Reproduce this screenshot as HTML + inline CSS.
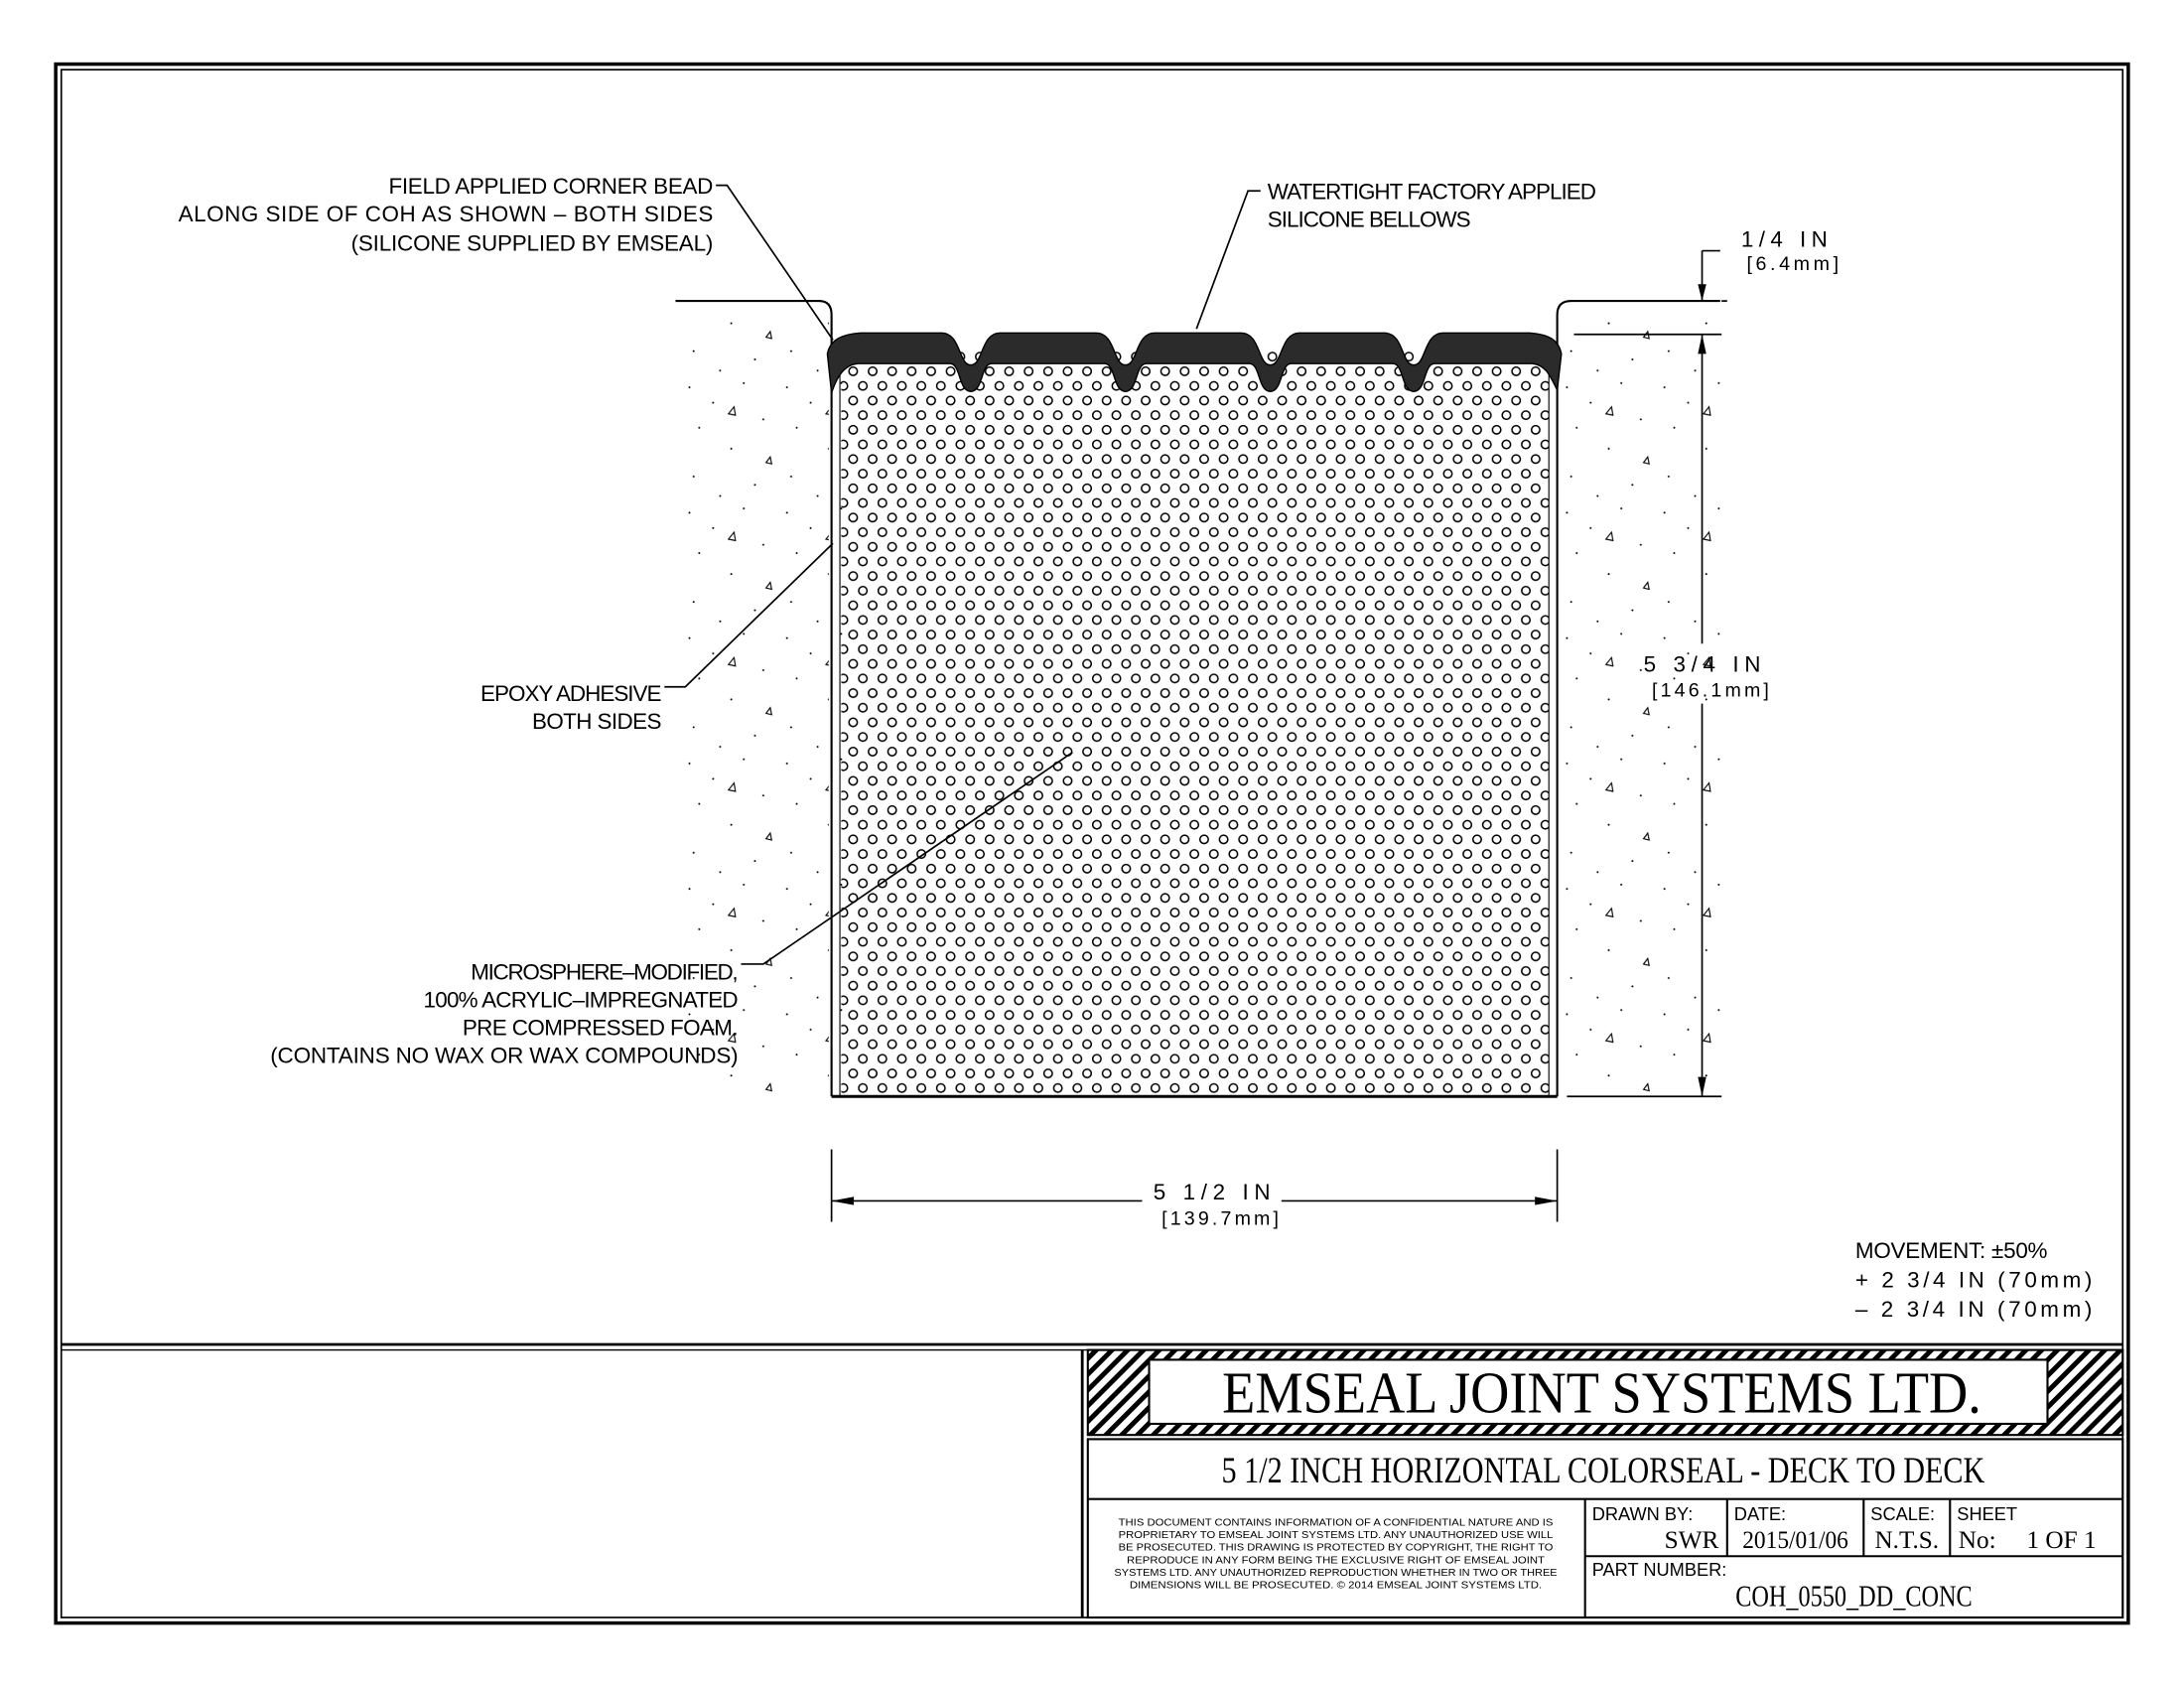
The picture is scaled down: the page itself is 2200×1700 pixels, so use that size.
<!DOCTYPE html>
<html><head><meta charset="utf-8"><style>
html,body{margin:0;padding:0;background:#fff}
svg{display:block}
text{font-family:"Liberation Sans",sans-serif;fill:#000}
.s{font-family:"Liberation Serif",serif}
</style></head><body>
<svg width="2200" height="1700" viewBox="0 0 1568 1211.6" xmlns="http://www.w3.org/2000/svg">
<defs>
<pattern id="foam" width="14" height="21" patternUnits="userSpaceOnUse">
<circle cx="3.5" cy="4" r="3" fill="none" stroke="#000" stroke-width="1.1"/>
<circle cx="10.5" cy="14.5" r="3" fill="none" stroke="#000" stroke-width="1.1"/>
</pattern>
<pattern id="conc" width="70" height="90" patternUnits="userSpaceOnUse">
<circle cx="5" cy="8" r="0.7"/><circle cx="22" cy="19" r="0.7"/><circle cx="44" cy="5" r="0.7"/>
<circle cx="12" cy="37" r="0.7"/><circle cx="58" cy="31" r="0.7"/><circle cx="35" cy="52" r="0.7"/>
<circle cx="8" cy="72" r="0.7"/><circle cx="52" cy="78" r="0.7"/><circle cx="27" cy="86" r="0.7"/>
<path d="M33,27 l4,-5 l1,6 z" fill="none" stroke="#000" stroke-width="0.8"/>
<path d="M60,62 l3,-4 l1,5 z" fill="none" stroke="#000" stroke-width="0.8"/>
</pattern>
<pattern id="hatch" width="8" height="8" patternUnits="userSpaceOnUse" patternTransform="rotate(-45)">
<rect width="8" height="3.5" fill="#000"/>
</pattern>
</defs>

<rect x="40" y="46" width="1488" height="1119" fill="none" stroke="#000" stroke-width="2.5"/>
<rect x="44" y="50" width="1480" height="1111" fill="none" stroke="#000" stroke-width="1.2"/>
<line x1="44" y1="965" x2="1524" y2="965" stroke="#000" stroke-width="2"/>
<line x1="44" y1="969" x2="1524" y2="969" stroke="#000" stroke-width="1"/>
<line x1="777" y1="969" x2="777" y2="1161" stroke="#000" stroke-width="2"/>

<rect x="485" y="218" width="110" height="569" fill="url(#conc)"/>
<rect x="1121" y="218" width="120" height="569" fill="url(#conc)"/>
<rect x="599" y="250" width="7" height="535" fill="url(#conc)"/>
<path d="M485,216 L588,216 Q597,216 597,226 L597,787" fill="none" stroke="#000" stroke-width="1.5"/>
<path d="M1235,216 L1128,216 Q1118,216 1118,226 L1118,787" fill="none" stroke="#000" stroke-width="1.5"/>
<line x1="603" y1="260" x2="603" y2="787" stroke="#000" stroke-width="0.8"/>
<line x1="1112" y1="260" x2="1112" y2="787" stroke="#000" stroke-width="0.8"/>

<rect x="604" y="250" width="508" height="536" fill="url(#foam)"/>
<line x1="597" y1="787" x2="1118" y2="787" stroke="#000" stroke-width="2.2"/>

<path d="M594,254 C596,244 604,240 618,239
L676,239 C690,239 688,262 697,262 C706,262 704,239 718,239
L787,239 C801,239 799,262 808,262 C817,262 815,239 829,239
L891,239 C905,239 903,262 912,262 C921,262 919,239 933,239
L994,239 C1008,239 1006,262 1015,262 C1024,262 1022,239 1036,239
L1098,239 C1112,240 1119,244 1121,254
L1118,280 C1113,270 1110,262 1100,261
L1030,261 C1022,261 1024,281 1015,281 C1006,281 1008,261 1000,261
L927,261 C919,261 921,281 912,281 C903,281 905,261 897,261
L823,261 C815,261 817,281 808,281 C799,281 801,261 793,261
L712,261 C704,261 706,281 697,281 C688,281 690,261 682,261
L616,261 C606,262 601,270 597,282 Z" fill="#2b2b2b" stroke="#000" stroke-width="1"/>

<g stroke="#000" stroke-width="1.2" fill="none">
<line x1="597" y1="825" x2="597" y2="877"/>
<line x1="1118" y1="825" x2="1118" y2="877"/>
<line x1="597" y1="862" x2="820" y2="862"/>
<line x1="920" y1="862" x2="1118" y2="862"/>
<line x1="1130" y1="240" x2="1236" y2="240"/>
<line x1="1125" y1="787" x2="1236" y2="787"/>
<line x1="1222" y1="240" x2="1222" y2="462"/>
<line x1="1222" y1="505" x2="1222" y2="787"/>
<line x1="1222" y1="180" x2="1222" y2="216"/>
<line x1="1222" y1="180" x2="1235" y2="180"/>
<line x1="1236" y1="216" x2="1240" y2="216"/>
</g>
<g fill="#000">
<path d="M597,862 l16,-3 l0,6 z"/><path d="M1118,862 l-16,-3 l0,6 z"/>
<path d="M1222,240 l-3,14 l6,0 z"/><path d="M1222,787 l-3,-14 l6,0 z"/>
<path d="M1222,216 l-3,-12 l6,0 z"/>
</g>
<text x="870" y="861" font-size="16" text-anchor="middle" textLength="84">5 1/2 IN</text>
<text x="876" y="879" font-size="14" text-anchor="middle" textLength="84">[139.7mm]</text>
<text x="1222" y="482" font-size="16" text-anchor="middle" textLength="84">5 3/4 IN</text>
<text x="1228" y="500" font-size="14" text-anchor="middle" textLength="84">[146.1mm]</text>
<text x="1250" y="177" font-size="16" textLength="62">1/4 IN</text>
<text x="1254" y="194" font-size="14" textLength="66">[6.4mm]</text>

<g stroke="#000" stroke-width="1.2" fill="none">
<polyline points="514,133 522,133 598,244"/>
<polyline points="905,137 896,137 859,236"/>
<polyline points="477,493 492,493 598,390"/>
<polyline points="532,692 548,692 770,540"/>
</g>

<g font-size="16">
<text x="512" y="139" text-anchor="end" textLength="233">FIELD APPLIED CORNER BEAD</text>
<text x="512" y="159" text-anchor="end" textLength="384">ALONG SIDE OF COH AS SHOWN – BOTH SIDES</text>
<text x="512" y="180" text-anchor="end" textLength="260">(SILICONE SUPPLIED BY EMSEAL)</text>
<text x="910" y="143" textLength="236">WATERTIGHT FACTORY APPLIED</text>
<text x="910" y="163" textLength="146">SILICONE BELLOWS</text>
<text x="475" y="503" text-anchor="end" textLength="130">EPOXY ADHESIVE</text>
<text x="475" y="523" text-anchor="end" textLength="93">BOTH SIDES</text>
<text x="530" y="703" text-anchor="end" textLength="192">MICROSPHERE–MODIFIED,</text>
<text x="530" y="723" text-anchor="end" textLength="226">100% ACRYLIC–IMPREGNATED</text>
<text x="530" y="743" text-anchor="end" textLength="198">PRE COMPRESSED FOAM.</text>
<text x="530" y="763" text-anchor="end" textLength="336">(CONTAINS NO WAX OR WAX COMPOUNDS)</text>
<text x="1332" y="903" textLength="138">MOVEMENT: ±50%</text>
<text x="1332" y="924" textLength="170">+ 2 3/4 IN (70mm)</text>
<text x="1332" y="945" textLength="170">– 2 3/4 IN (70mm)</text>
</g>

<rect x="781" y="969" width="743" height="61" fill="url(#hatch)"/>
<rect x="825" y="976" width="645" height="46" fill="#fff" stroke="#000" stroke-width="1.5"/>
<rect x="781" y="969" width="743" height="61" fill="none" stroke="#000" stroke-width="1.5"/>
<text class="s" x="1150" y="1014" font-size="42" text-anchor="middle" textLength="545" lengthAdjust="spacingAndGlyphs">EMSEAL JOINT SYSTEMS LTD.</text>
<rect x="781" y="1033" width="743" height="128" fill="none" stroke="#000" stroke-width="1.5"/>
<line x1="781" y1="1076" x2="1524" y2="1076" stroke="#000" stroke-width="1.5"/>
<text class="s" x="1151" y="1064" font-size="26" text-anchor="middle" textLength="548" lengthAdjust="spacingAndGlyphs">5 1/2 INCH HORIZONTAL COLORSEAL - DECK TO DECK</text>
<g stroke="#000" stroke-width="1.5">
<line x1="1138" y1="1076" x2="1138" y2="1161"/>
<line x1="1138" y1="1117" x2="1524" y2="1117"/>
<line x1="1240" y1="1076" x2="1240" y2="1117"/>
<line x1="1338" y1="1076" x2="1338" y2="1117"/>
<line x1="1400" y1="1076" x2="1400" y2="1117"/>
</g>
<g font-size="7" text-anchor="middle">
<text x="959" y="1095" textLength="312" lengthAdjust="spacingAndGlyphs">THIS DOCUMENT CONTAINS INFORMATION OF A CONFIDENTIAL NATURE AND IS</text>
<text x="959" y="1104" textLength="312" lengthAdjust="spacingAndGlyphs">PROPRIETARY TO EMSEAL JOINT SYSTEMS LTD. ANY UNAUTHORIZED USE WILL</text>
<text x="959" y="1113" textLength="312" lengthAdjust="spacingAndGlyphs">BE PROSECUTED. THIS DRAWING IS PROTECTED BY COPYRIGHT, THE RIGHT TO</text>
<text x="959" y="1122" textLength="300" lengthAdjust="spacingAndGlyphs">REPRODUCE IN ANY FORM BEING THE EXCLUSIVE RIGHT OF EMSEAL JOINT</text>
<text x="959" y="1131" textLength="318" lengthAdjust="spacingAndGlyphs">SYSTEMS LTD. ANY UNAUTHORIZED REPRODUCTION WHETHER IN TWO OR THREE</text>
<text x="959" y="1140" textLength="296" lengthAdjust="spacingAndGlyphs">DIMENSIONS WILL BE PROSECUTED. © 2014 EMSEAL JOINT SYSTEMS LTD.</text>
</g>
<g font-size="13">
<text x="1143" y="1091">DRAWN BY:</text>
<text x="1245" y="1091">DATE:</text>
<text x="1343" y="1091">SCALE:</text>
<text x="1405" y="1091">SHEET</text>
<text x="1143" y="1131">PART NUMBER:</text>
</g>
<g font-size="18">
<text class="s" x="1234" y="1111" text-anchor="end">SWR</text>
<text class="s" x="1289" y="1111" text-anchor="middle" textLength="76" lengthAdjust="spacingAndGlyphs">2015/01/06</text>
<text class="s" x="1369" y="1111" text-anchor="middle" textLength="46" lengthAdjust="spacingAndGlyphs">N.T.S.</text>
<text class="s" x="1406" y="1111">No:</text>
<text class="s" x="1480" y="1111" text-anchor="middle">1 OF 1</text>
<text class="s" x="1331" y="1153" text-anchor="middle" font-size="22" textLength="170" lengthAdjust="spacingAndGlyphs">COH_0550_DD_CONC</text>
</g>
</svg>
</body></html>
